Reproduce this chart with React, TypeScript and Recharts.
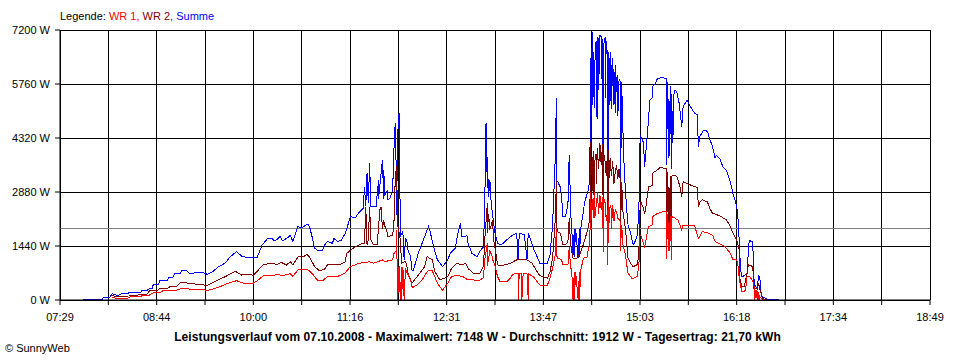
import { LineChart, Line, XAxis, YAxis, CartesianGrid, ReferenceLine } from "recharts";

const xLabels = ["07:29", "08:44", "10:00", "11:16", "12:31", "13:47", "15:03", "16:18", "17:34", "18:49"];
const yTicks = [0, 1440, 2880, 4320, 5760, 7200];
const durchschnitt = 1912;

// Summe (blau)
const summe: [string, number][] = [
  ["07:47", 20], ["07:56", 20], ["08:02", 20], ["08:03", 80], ["08:08", 80], ["08:10", 170], ["08:14", 115], ["08:18", 180],
  ["08:22", 180], ["08:24", 205], ["08:32", 205], ["08:33", 250], ["08:37", 250], ["08:39", 310], ["08:41", 310], ["08:42", 420],
  ["08:46", 420], ["08:47", 530], ["08:53", 530], ["08:54", 600], ["08:57", 600], ["08:59", 710], ["09:03", 710], ["09:04", 775],
  ["09:08", 775], ["09:10", 710], ["09:13", 710], ["09:15", 740], ["09:20", 745], ["09:24", 685], ["09:28", 745], ["09:33", 890],
  ["09:38", 980], ["09:42", 1150], ["09:47", 1290], ["09:51", 1170], ["09:55", 1130], ["10:03", 1130], ["10:07", 1470], ["10:11", 1630],
  ["10:15", 1630], ["10:17", 1570], ["10:21", 1690], ["10:23", 1580], ["10:26", 1640], ["10:29", 1720], ["10:31", 1560], ["10:35", 1960],
  ["10:38", 1920], ["10:41", 2000], ["10:43", 2020], ["10:44", 1960], ["10:46", 1690], ["10:48", 1380], ["10:51", 1310], ["10:54", 1310],
  ["10:56", 1470], ["10:58", 1560], ["11:02", 1510], ["11:03", 1640], ["11:06", 1560], ["11:09", 1600], ["11:12", 1780], ["11:16", 2220],
  ["11:20", 2200], ["11:23", 2350], ["11:26", 2440], ["11:27", 3020], ["11:28", 2500], ["11:29", 3380], ["11:30", 2580], ["11:31", 3650],
  ["11:32", 2490], ["11:36", 2490], ["11:38", 3200], ["11:38", 2700], ["11:41", 3730], ["11:42", 2700], ["11:42", 3470], ["11:43", 2800],
  ["11:45", 2930], ["11:45", 2670], ["11:47", 2720], ["11:49", 2930], ["11:50", 4000], ["11:51", 4710], ["11:52", 3140], ["11:52", 2270],
  ["11:53", 4450], ["11:54", 4980], ["11:55", 1960], ["11:55", 1700], ["11:57", 1820], ["11:58", 1070], ["11:59", 1640], ["12:00", 1600],
  ["12:01", 1330], ["12:03", 1160], ["12:04", 800], ["12:05", 780], ["12:06", 890], ["12:09", 1240], ["12:12", 1510], ["12:14", 1690],
  ["12:17", 1960], ["12:18", 1870], ["12:21", 1420], ["12:24", 1070], ["12:28", 890], ["12:32", 1070], ["12:34", 1240], ["12:38", 1380],
  ["12:40", 1780], ["12:42", 2040], ["12:43", 1700], ["12:46", 1690], ["12:47", 1720], ["12:48", 1510], ["12:51", 1240], ["12:55", 1160],
  ["12:57", 1290], ["13:00", 1420], ["13:01", 2580], ["13:02", 4710], ["13:03", 3000], ["13:03", 3800], ["13:04", 2750], ["13:05", 3200],
  ["13:06", 2600], ["13:07", 2300], ["13:09", 1780], ["13:11", 1510], ["13:14", 1470], ["13:18", 1600], ["13:22", 1710], ["13:26", 1780],
  ["13:27", 1070], ["13:28", 1780], ["13:32", 1740], ["13:34", 1070], ["13:35", 1780], ["13:36", 1690], ["13:39", 1380], ["13:43", 1070],
  ["13:44", 980], ["13:50", 980], ["13:52", 1200], ["13:54", 2000], ["13:56", 3690], ["13:57", 5380], ["13:57", 3200], ["13:58", 3160],
  ["14:00", 3010], ["14:01", 2800], ["14:02", 2220], ["14:04", 2220], ["14:06", 2530], ["14:07", 3870], ["14:08", 2600], ["14:08", 2400],
  ["14:09", 1900], ["14:10", 1200], ["14:11", 1900], ["14:11", 1150], ["14:12", 1900], ["14:14", 1110], ["14:15", 1900], ["14:15", 1150],
  ["14:16", 1900], ["14:18", 2350], ["14:19", 2600], ["14:22", 2950], ["14:23", 3200], ["14:24", 6440], ["14:24", 4800], ["14:25", 7148],
  ["14:25", 5200], ["14:26", 5560], ["14:26", 6600], ["14:27", 5110], ["14:27", 6300], ["14:28", 6900], ["14:28", 5000], ["14:29", 4840],
  ["14:29", 7000], ["14:30", 6980], ["14:30", 5600], ["14:31", 7050], ["14:32", 7020], ["14:32", 5900], ["14:33", 6950], ["14:33", 5100],
  ["14:34", 1820], ["14:34", 6800], ["14:35", 7000], ["14:35", 5400], ["14:36", 6900], ["14:37", 6500], ["14:37", 1640], ["14:38", 6600],
  ["14:38", 5000], ["14:39", 6620], ["14:39", 5300], ["14:40", 6270], ["14:40", 5100], ["14:41", 6450], ["14:42", 5200], ["14:43", 6270],
  ["14:43", 5000], ["14:44", 5910], ["14:45", 6000], ["14:45", 4900], ["14:46", 5900], ["14:47", 5820], ["14:47", 2350], ["14:48", 5800],
  ["14:49", 4500], ["14:50", 3500], ["14:51", 2890], ["14:52", 2400], ["14:53", 2000], ["14:55", 1800], ["14:56", 1600], ["14:57", 1470],
  ["14:58", 1520], ["15:00", 1700], ["15:01", 2100], ["15:02", 3000], ["15:02", 4090], ["15:03", 4360], ["15:05", 4200], ["15:06", 3560],
  ["15:07", 4000], ["15:09", 4800], ["15:10", 5330], ["15:12", 5400], ["15:12", 5690], ["15:14", 5750], ["15:16", 5910], ["15:20", 5930],
  ["15:23", 5900], ["15:23", 3600], ["15:24", 5800], ["15:25", 3800], ["15:26", 5700], ["15:27", 3500], ["15:27", 5500], ["15:28", 4200],
  ["15:29", 5600], ["15:31", 5560], ["15:33", 5240], ["15:35", 4620], ["15:36", 5150], ["15:39", 5330], ["15:41", 5200], ["15:45", 4980],
  ["15:47", 4950], ["15:48", 4090], ["15:49", 4350], ["15:52", 4530], ["15:55", 4500], ["15:57", 4270], ["15:59", 4100], ["16:01", 3780],
  ["16:02", 3850], ["16:05", 3750], ["16:07", 3560], ["16:10", 3450], ["16:13", 3150], ["16:15", 2840], ["16:17", 2620], ["16:18", 2490],
  ["16:19", 2130], ["16:20", 1510], ["16:20", 1470], ["16:21", 800], ["16:22", 620], ["16:24", 650], ["16:26", 700], ["16:27", 1300],
  ["16:27", 1470], ["16:28", 1580], ["16:30", 1560], ["16:31", 1160], ["16:31", 700], ["16:32", 400], ["16:34", 310], ["16:35", 665],
  ["16:36", 580], ["16:37", 180], ["16:38", 90], ["16:40", 50], ["16:42", 20], ["16:51", 20],
];

// WR 2 (dunkelrot)
const wr2: [string, number][] = [
  ["08:10", 115], ["08:14", 90], ["08:20", 100], ["08:26", 115], ["08:33", 150], ["08:37", 150], ["08:39", 250], ["08:45", 250],
  ["08:47", 310], ["08:53", 310], ["08:55", 355], ["09:00", 355], ["09:03", 460], ["09:08", 460], ["09:10", 435], ["09:15", 425],
  ["09:24", 390], ["09:30", 490], ["09:38", 620], ["09:46", 765], ["09:51", 665], ["09:58", 690], ["10:00", 650], ["10:04", 800],
  ["10:08", 950], ["10:16", 980], ["10:18", 935], ["10:22", 1000], ["10:26", 935], ["10:29", 1020], ["10:31", 935], ["10:35", 1150],
  ["10:39", 1150], ["10:42", 1220], ["10:44", 1150], ["10:48", 890], ["10:52", 775], ["10:56", 830], ["10:58", 935], ["11:04", 935],
  ["11:08", 950], ["11:12", 1020], ["11:13", 1240], ["11:18", 1380], ["11:25", 1510], ["11:27", 1500], ["11:28", 2490], ["11:29", 1480],
  ["11:30", 1600], ["11:31", 2490], ["11:32", 1600], ["11:34", 1470], ["11:37", 1470], ["11:38", 1960], ["11:39", 2400], ["11:40", 2490],
  ["11:41", 1900], ["11:42", 2130], ["11:43", 1960], ["11:45", 1780], ["11:45", 1690], ["11:49", 1730], ["11:50", 2040], ["11:51", 3200],
  ["11:52", 3560], ["11:53", 2000], ["11:55", 1600], ["11:56", 980], ["11:59", 1030], ["12:00", 940], ["12:01", 710], ["12:03", 535],
  ["12:04", 445], ["12:06", 535], ["12:08", 620], ["12:12", 800], ["12:14", 890], ["12:16", 1160], ["12:18", 1110], ["12:20", 1070],
  ["12:22", 755], ["12:26", 535], ["12:32", 620], ["12:35", 840], ["12:39", 980], ["12:43", 940], ["12:46", 980], ["12:48", 840],
  ["12:52", 710], ["12:57", 710], ["13:00", 900], ["13:01", 1600], ["13:03", 2580], ["13:03", 1800], ["13:04", 2300], ["13:05", 1870],
  ["13:06", 2000], ["13:07", 2130], ["13:08", 1600], ["13:09", 1400], ["13:11", 935], ["13:15", 920], ["13:21", 980], ["13:26", 1070],
  ["13:34", 1070], ["13:38", 980], ["13:41", 800], ["13:44", 650], ["13:50", 580], ["13:52", 755], ["13:54", 1110], ["13:56", 2090],
  ["13:57", 3160], ["13:57", 2000], ["13:58", 1820], ["14:00", 1780], ["14:01", 1640], ["14:02", 1470], ["14:04", 1470], ["14:06", 1560],
  ["14:07", 2180], ["14:08", 1500], ["14:09", 1280], ["14:10", 1110], ["14:13", 1110], ["14:15", 1200], ["14:18", 1470], ["14:21", 1820],
  ["14:22", 1950], ["14:23", 2180], ["14:24", 4220], ["14:24", 3300], ["14:25", 3800], ["14:25", 2900], ["14:26", 3960], ["14:26", 3200],
  ["14:27", 2180], ["14:27", 3700], ["14:28", 3900], ["14:28", 3100], ["14:29", 3960], ["14:29", 4050], ["14:30", 3500], ["14:31", 4180],
  ["14:32", 3600], ["14:33", 4150], ["14:33", 3700], ["14:34", 1560], ["14:34", 3900], ["14:35", 3700], ["14:36", 3300], ["14:37", 4050],
  ["14:37", 1470], ["14:38", 4000], ["14:38", 3200], ["14:39", 3780], ["14:40", 3300], ["14:41", 3700], ["14:42", 3100], ["14:43", 3420],
  ["14:44", 3600], ["14:45", 3240], ["14:46", 3500], ["14:47", 3150], ["14:47", 1700], ["14:48", 3150], ["14:49", 2350], ["14:51", 1900],
  ["14:52", 1470], ["14:53", 1110], ["14:55", 980], ["14:57", 890], ["15:00", 940], ["15:01", 1100], ["15:02", 1700], ["15:02", 2300],
  ["15:03", 2620], ["15:05", 2450], ["15:06", 2300], ["15:07", 2500], ["15:09", 3020], ["15:12", 3050], ["15:12", 3380], ["15:16", 3470],
  ["15:18", 3540], ["15:22", 3500], ["15:23", 3500], ["15:23", 1500], ["15:24", 3400], ["15:25", 1700], ["15:26", 3300], ["15:27", 1420],
  ["15:27", 3300], ["15:28", 3330], ["15:31", 3300], ["15:34", 2980], ["15:35", 2750], ["15:36", 3150], ["15:39", 3110], ["15:43", 3050],
  ["15:47", 3000], ["15:48", 2490], ["15:49", 2600], ["15:51", 2670], ["15:55", 2620], ["15:57", 2440], ["15:59", 2310], ["16:02", 2280],
  ["16:06", 2220], ["16:10", 2130], ["16:13", 1960], ["16:15", 1780], ["16:18", 1600], ["16:19", 1470], ["16:20", 1330], ["16:20", 620],
  ["16:22", 355], ["16:24", 350], ["16:24", 400], ["16:26", 710], ["16:27", 935], ["16:30", 900], ["16:31", 710], ["16:31", 310],
  ["16:34", 290], ["16:35", 450], ["16:36", 290], ["16:38", 40], ["16:40", 20], ["16:42", 10],
];

// WR 1 (rot)
const wr1: [string, number][] = [
  ["08:10", 70], ["08:13", 45], ["08:22", 45], ["08:24", 90], ["08:32", 90], ["08:34", 133], ["08:39", 133], ["08:42", 195],
  ["08:47", 195], ["08:50", 260], ["09:00", 260], ["09:03", 300], ["09:08", 300], ["09:11", 290], ["09:15", 285], ["09:25", 260],
  ["09:33", 340], ["09:40", 445], ["09:47", 515], ["09:53", 445], ["10:00", 445], ["10:04", 535], ["10:08", 650], ["10:16", 650],
  ["10:18", 690], ["10:23", 650], ["10:29", 700], ["10:31", 630], ["10:35", 800], ["10:41", 820], ["10:43", 800], ["10:46", 710],
  ["10:50", 535], ["10:54", 510], ["10:58", 620], ["11:04", 620], ["11:08", 650], ["11:12", 730], ["11:16", 890], ["11:23", 980],
  ["11:27", 1000], ["11:31", 1020], ["11:34", 980], ["11:38", 1030], ["11:41", 1070], ["11:43", 1020], ["11:45", 1040], ["11:49", 1070],
  ["11:50", 1240], ["11:52", 1330], ["11:52", 1870], ["11:53", 0], ["11:54", 900], ["11:55", 0], ["11:56", 890], ["11:56", 0],
  ["11:57", 890], ["11:58", 0], ["11:59", 850], ["12:00", 750], ["12:03", 535], ["12:04", 355], ["12:05", 340], ["12:08", 400],
  ["12:12", 530], ["12:16", 755], ["12:18", 800], ["12:20", 780], ["12:24", 445], ["12:28", 265], ["12:32", 445], ["12:35", 620],
  ["12:39", 660], ["12:44", 620], ["12:48", 535], ["12:52", 535], ["12:57", 520], ["13:00", 600], ["13:01", 1070], ["13:03", 1510],
  ["13:03", 900], ["13:05", 1300], ["13:07", 1160], ["13:07", 1100], ["13:09", 900], ["13:11", 620], ["13:13", 490], ["13:18", 480],
  ["13:21", 580], ["13:23", 690], ["13:27", 710], ["13:27", 0], ["13:28", 710], ["13:30", 710], ["13:30", 0], ["13:31", 710],
  ["13:34", 710], ["13:35", 0], ["13:35", 700], ["13:39", 620], ["13:43", 445], ["13:44", 400], ["13:50", 400], ["13:52", 580],
  ["13:54", 845], ["13:56", 1200], ["13:57", 1900], ["13:57", 1200], ["13:58", 1110], ["14:01", 1080], ["14:02", 935], ["14:06", 935],
  ["14:07", 1400], ["14:08", 900], ["14:09", 755], ["14:10", 0], ["14:11", 755], ["14:11", 0], ["14:12", 755], ["14:14", 0],
  ["14:15", 750], ["14:15", 0], ["14:16", 780], ["14:18", 1110], ["14:21", 1150], ["14:22", 1380], ["14:23", 1500], ["14:24", 2890],
  ["14:24", 2100], ["14:25", 2700], ["14:26", 2180], ["14:26", 2600], ["14:27", 2890], ["14:27", 2200], ["14:28", 2500], ["14:29", 2800],
  ["14:29", 2890], ["14:30", 2300], ["14:31", 2800], ["14:32", 2400], ["14:33", 2750], ["14:33", 2400], ["14:34", 1290], ["14:34", 2700],
  ["14:35", 2600], ["14:36", 2100], ["14:37", 2400], ["14:37", 935], ["14:38", 2650], ["14:38", 2000], ["14:39", 2530], ["14:40", 2400],
  ["14:40", 1900], ["14:41", 2530], ["14:42", 2100], ["14:43", 2400], ["14:44", 2350], ["14:45", 2180], ["14:47", 2100], ["14:47", 1300],
  ["14:48", 2000], ["14:49", 1470], ["14:51", 1200], ["14:52", 935], ["14:53", 710], ["14:56", 580], ["14:57", 580], ["15:00", 620],
  ["15:01", 800], ["15:02", 1200], ["15:02", 1700], ["15:03", 1730], ["15:06", 1420], ["15:07", 1600], ["15:09", 1960], ["15:12", 2000],
  ["15:12", 2220], ["15:16", 2310], ["15:20", 2350], ["15:23", 2350], ["15:23", 1100], ["15:24", 2300], ["15:25", 1300], ["15:26", 2250],
  ["15:27", 1070], ["15:27", 2200], ["15:28", 2220], ["15:32", 2130], ["15:35", 1870], ["15:36", 2000], ["15:40", 2000], ["15:45", 1980],
  ["15:48", 1640], ["15:51", 1820], ["15:55", 1800], ["15:59", 1730], ["16:01", 1560], ["16:05", 1490], ["16:09", 1420], ["16:13", 1240],
  ["16:15", 1070], ["16:18", 1070], ["16:19", 890], ["16:20", 535], ["16:22", 220], ["16:24", 220], ["16:25", 300], ["16:26", 620],
  ["16:28", 620], ["16:30", 535], ["16:31", 450], ["16:32", 270], ["16:32", 0], ["16:33", 270], ["16:34", 0], ["16:34", 250],
  ["16:35", 0], ["16:35", 200], ["16:36", 0], ["16:36", 90], ["16:38", 20], ["16:40", 0],
];

const toMin = (z: string) => {
  const [h, m] = z.split(":").map(Number);
  return h * 60 + m;
};
const toPoints = (rows: [string, number][]) => rows.map(([z, v]) => ({ t: toMin(z), v }));

const start = toMin(xLabels[0]);
const end = toMin(xLabels[xLabels.length - 1]);
const step = (end - start) / ((xLabels.length - 1) * 2);
const xTicks = Array.from({ length: (xLabels.length - 1) * 2 + 1 }, (_, i) => start + i * step);

const font = "'Liberation Sans', Arial, sans-serif";
const tickStyle = { fill: "#000", fontSize: 11, fontFamily: font };

export default function App() {
  return (
    <div style={{ position: "absolute", left: 0, top: 0, width: 960, height: 360, background: "#fff", fontFamily: font }}>
      <div style={{ position: "absolute", left: 60, top: 11, fontSize: 11, lineHeight: "11px", whiteSpace: "nowrap" }}>
        Legende: <span style={{ color: "#ff0000" }}>WR 1, </span>
        <span style={{ color: "#800000" }}>WR 2, </span>
        <span style={{ color: "#0000ff" }}>Summe</span>
      </div>
      <LineChart width={960} height={360} margin={{ top: 30, right: 30, bottom: 30, left: 0 }}>
        <CartesianGrid stroke="#000" shapeRendering="crispEdges" />
        <XAxis
          type="number"
          dataKey="t"
          domain={[start, end]}
          ticks={xTicks}
          allowDataOverflow
          height={30}
          tickSize={5}
          tickMargin={8}
          tick={tickStyle}
          stroke="#000"
          interval={0}
          tickFormatter={(v: number) => {
            const i = Math.round((v - start) / step);
            return i % 2 === 0 ? xLabels[i / 2] : "";
          }}
        />
        <YAxis
          type="number"
          domain={[0, 7200]}
          ticks={yTicks}
          width={60}
          tickSize={5}
          tickMargin={5}
          tick={tickStyle}
          stroke="#000"
          interval={0}
          tickFormatter={(v: number) => `${v} W`}
        />
        <ReferenceLine y={durchschnitt} stroke="#808080" shapeRendering="crispEdges" />
        <Line data={toPoints(summe)} dataKey="v" type="linear" stroke="#0000ff" strokeWidth={1} shapeRendering="crispEdges" dot={false} activeDot={false} isAnimationActive={false} />
        <Line data={toPoints(wr2)} dataKey="v" type="linear" stroke="#800000" strokeWidth={1} shapeRendering="crispEdges" dot={false} activeDot={false} isAnimationActive={false} />
        <Line data={toPoints(wr1)} dataKey="v" type="linear" stroke="#ff0000" strokeWidth={1} shapeRendering="crispEdges" dot={false} activeDot={false} isAnimationActive={false} />
      </LineChart>
      <div style={{ position: "absolute", left: 0, width: 955, top: 331, textAlign: "center", fontSize: 12, lineHeight: "12px", fontWeight: "bold", letterSpacing: 0.1, whiteSpace: "nowrap" }}>
        Leistungsverlauf vom 07.10.2008 - Maximalwert: 7148 W - Durchschnitt: 1912 W - Tagesertrag: 21,70 kWh
      </div>
      <div style={{ position: "absolute", left: 5, top: 343, fontSize: 11, lineHeight: "11px", whiteSpace: "nowrap" }}>© SunnyWeb</div>
    </div>
  );
}
